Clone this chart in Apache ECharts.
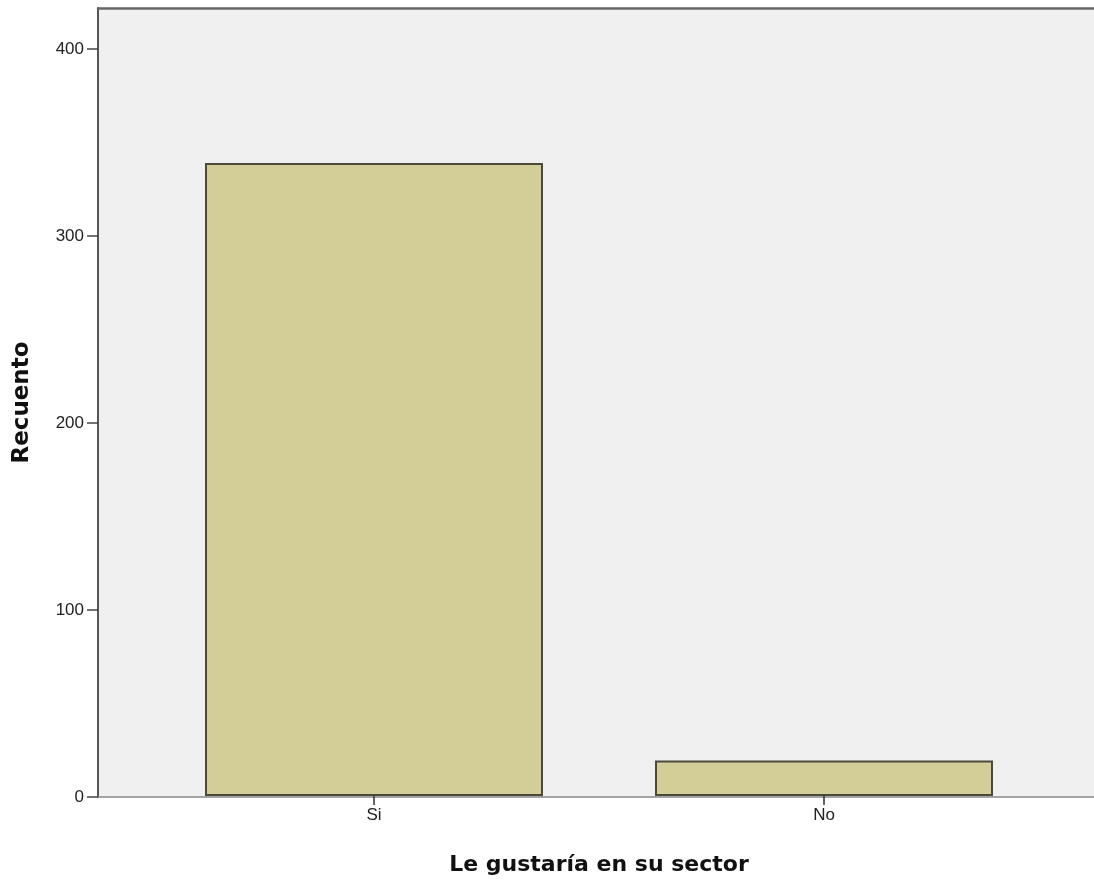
<!DOCTYPE html>
<html><head><meta charset="utf-8">
<script src="https://cdn.jsdelivr.net/npm/echarts@6/dist/echarts.min.js"></script>
<style>html,body{margin:0;padding:0;background:#fff}#c{width:1094px;height:881px}</style>
</head><body><div id="c"></div>
<script>
const categories = ['Si', 'No'];
const counts = [339, 19];
const yTicks = [0, 100, 200, 300, 400];
const xTitle = 'Le gustaría en su sector';
const yTitle = 'Recuento';

const chart = echarts.init(document.getElementById('c'), null, {renderer: 'canvas'});
const yCommon = {type: 'value', min: 0, max: 422, interval: 100};
chart.setOption({
  animation: false,
  grid: [
    {left: 98, top: 8, right: 0, bottom: 84, show: true, backgroundColor: '#f0f0f0', borderWidth: 0, z: 0},
    {left: 149, top: 8, right: 45, bottom: 84, show: false}
  ],
  xAxis: [
    {gridIndex: 0, type: 'category', data: ['', ''], axisLine: {show: true, lineStyle: {color: '#888', width: 1.5}}, axisTick: {show: false}, axisLabel: {show: false}, splitLine: {show: false}},
    {gridIndex: 1, type: 'category', data: categories, boundaryGap: true,
      axisLine: {show: false}, axisTick: {show: true, alignWithLabel: true, length: 9, lineStyle: {color: '#333', width: 1.5}},
      axisLabel: {color: '#222', fontSize: 17, fontFamily: 'Liberation Sans, Arial, sans-serif', margin: 11},
      name: xTitle, nameLocation: 'middle', nameGap: 58,
      nameTextStyle: {color: '#111', fontSize: 22, fontWeight: 'bold', fontFamily: 'DejaVu Sans, sans-serif'}},
    {gridIndex: 0, type: 'category', position: 'top', data: ['', ''], axisLine: {show: true, lineStyle: {color: '#666', width: 2.5}}, axisTick: {show: false}, axisLabel: {show: false}, splitLine: {show: false}}
  ],
  yAxis: [
    Object.assign({gridIndex: 0}, yCommon, {
      axisLine: {show: true, lineStyle: {color: '#555', width: 2}},
      axisTick: {show: true, length: 11, customValues: yTicks, lineStyle: {color: '#444', width: 1.5}},
      axisLabel: {color: '#222', fontSize: 17, fontFamily: 'Liberation Sans, Arial, sans-serif', margin: 14, customValues: yTicks},
      splitLine: {show: false},
      name: yTitle, nameLocation: 'middle', nameGap: 64,
      nameTextStyle: {color: '#111', fontSize: 23, fontWeight: 'bold', fontFamily: 'DejaVu Sans, sans-serif'}}),
    Object.assign({gridIndex: 1}, yCommon, {show: false})
  ],
  series: [{
    type: 'bar', xAxisIndex: 1, yAxisIndex: 1, data: counts, barWidth: 338,
    itemStyle: {color: '#d3ce98', borderColor: '#4b4a3a', borderWidth: 2},
    z: 5
  }]
});
</script></body></html>
